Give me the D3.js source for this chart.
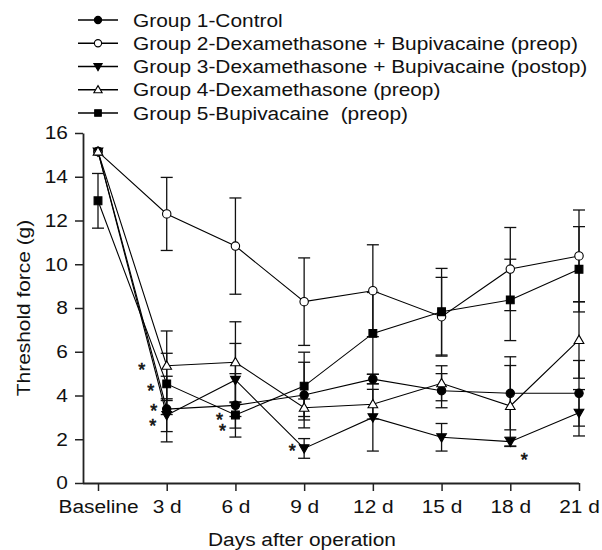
<!DOCTYPE html>
<html>
<head>
<meta charset="utf-8">
<script src="https://cdn.jsdelivr.net/npm/d3@7"></script>
<style>
  body { margin: 0; background: #fff; }
  text { font-family: "Liberation Sans", Arial, sans-serif; fill: #111; }
</style>
</head>
<body>
<div id="chart"></div>
<script>
var days = ['Baseline', '3 d', '6 d', '9 d', '12 d', '15 d', '18 d', '21 d'];
var yTicks = [0, 2, 4, 6, 8, 10, 12, 14, 16];

var groupNames = [
  'Group 1-Control',
  'Group 2-Dexamethasone + Bupivacaine (preop)',
  'Group 3-Dexamethasone + Bupivacaine (postop)',
  'Group 4-Dexamethasone (preop)',
  'Group 5-Bupivacaine  (preop)'
];

var g1 = [15.15, 3.38, 3.55, 4.02, 4.75, 4.22, 4.1, 4.1];
var g1Err = [0, 1.5, 1.45, 1.5, 0.22, 0.78, 1.67, 1.5];
var g2 = [15.15, 12.3, 10.83, 8.29, 8.79, 7.6, 9.78, 10.38];
var g2Err = [0, 1.67, 2.2, 2.0, 2.1, 1.8, 1.9, 2.1];
var g3 = [15.15, 3.1, 4.71, 1.58, 3.0, 2.09, 1.89, 3.21];
var g3Err = [0, 0.75, 1.67, 0.45, 1.54, 0.63, 0.2, 1.06];
var g4 = [15.15, 5.36, 5.52, 3.44, 3.6, 4.56, 3.52, 6.54];
var g4Err = [0, 1.59, 1.85, 0.4, 0.68, 0.8, 1.85, 1.75];
var g5 = [12.9, 4.53, 3.11, 4.43, 6.84, 7.83, 8.37, 9.77];
var g5Err = [1.25, 1.4, 0.6, 1.55, 1.87, 1.98, 1.86, 1.95];

// significance stars: day, height in data units, pixel shift left/right
var starDays = ['3 d', '3 d', '3 d', '3 d', '6 d', '6 d', '9 d', '18 d'];
var starVals = [5.35, 4.39, 3.47, 2.79, 3.06, 2.56, 1.65, 1.23];
var starDx = [-25, -16, -13, -14, -16, -13, -12, 14];

var w = 602, h = 550;
var stretch = 1.16;

var svg = d3.select('#chart')
  .append('svg')
  .attr('width', w)
  .attr('height', h);

var x = d3.scalePoint()
  .domain(days)
  .range([98, 579]);

var y = d3.scaleLinear()
  .domain([0, 16])
  .range([483, 133]);

////////////////////////
// Axes
////////////////////////
var yAxis = svg.append('g')
  .attr('transform', 'translate(83,0)')
  .call(d3.axisLeft(y).tickValues(yTicks).tickSize(8).tickPadding(5).tickSizeOuter(0));

var xAxis = svg.append('g')
  .attr('transform', 'translate(0,483)')
  .call(d3.axisBottom(x).tickSize(8).tickPadding(9).tickSizeOuter(0));

// x domain line starts at the y axis
xAxis.select('.domain').attr('d', 'M83,0.5H579');

[xAxis, yAxis].forEach(function(a) {
  a.select('.domain').attr('stroke', '#222').attr('stroke-width', 1.8);
  a.selectAll('.tick line').attr('stroke', '#222').attr('stroke-width', 1.5);
  a.selectAll('.tick text')
    .style('font-size', '18px')
    .attr('fill', '#111')
    .attr('transform', 'scale(' + stretch + ',1)');
});

svg.append('text')
  .attr('transform', 'translate(302,546) scale(' + stretch + ',1)')
  .attr('text-anchor', 'middle')
  .style('font-size', '18px')
  .text('Days after operation');

svg.append('text')
  .attr('transform', 'translate(30,308) rotate(-90) scale(' + stretch + ',1)')
  .attr('text-anchor', 'middle')
  .style('font-size', '18px')
  .text('Threshold force (g)');

////////////////////////
// Series
////////////////////////
var series = [
  { name: groupNames[0], vals: g1, err: g1Err, shape: 'circle', fill: '#000' },
  { name: groupNames[1], vals: g2, err: g2Err, shape: 'circle', fill: '#fff' },
  { name: groupNames[2], vals: g3, err: g3Err, shape: 'down', fill: '#000' },
  { name: groupNames[3], vals: g4, err: g4Err, shape: 'up', fill: '#fff' },
  { name: groupNames[4], vals: g5, err: g5Err, shape: 'square', fill: '#000' }
];

function markerPath(shape, s) {
  if (shape === 'circle') {
    return d3.symbol().type(d3.symbolCircle).size(Math.PI * s * s)();
  }
  if (shape === 'square') {
    return 'M' + (-s) + ',' + (-s) + 'H' + s + 'V' + s + 'H' + (-s) + 'Z';
  }
  var hw = s * 1.15, hh = s * 1.0;
  if (shape === 'up') {
    return 'M0,' + (-hh * 1.15) + 'L' + hw + ',' + (hh * 0.85) + 'L' + (-hw) + ',' + (hh * 0.85) + 'Z';
  }
  return 'M0,' + (hh * 1.15) + 'L' + hw + ',' + (-hh * 0.85) + 'L' + (-hw) + ',' + (-hh * 0.85) + 'Z';
}

var line = d3.line()
  .x(function(d, i) { return x(days[i]); })
  .y(function(d) { return y(d); });

var lineGroup = svg.append('g').attr('class', 'lines');
series.forEach(function(s) {
  lineGroup.append('path')
    .attr('d', line(s.vals))
    .attr('fill', 'none')
    .attr('stroke', '#000')
    .attr('stroke-width', 1.1);
});

var errGroup = svg.append('g').attr('class', 'errors');
series.forEach(function(s) {
  s.vals.forEach(function(v, i) {
    var e = s.err[i];
    if (!e) return;
    var cx = x(days[i]);
    errGroup.append('line')
      .attr('x1', cx).attr('x2', cx)
      .attr('y1', y(v + e)).attr('y2', y(v - e))
      .attr('stroke', '#111').attr('stroke-width', 1.3);
    [v + e, v - e].forEach(function(c) {
      errGroup.append('line')
        .attr('x1', cx - 6).attr('x2', cx + 6)
        .attr('y1', y(c)).attr('y2', y(c))
        .attr('stroke', '#111').attr('stroke-width', 1.3);
    });
  });
});

var markGroup = svg.append('g').attr('class', 'markers');
series.forEach(function(s) {
  markGroup.selectAll(null)
    .data(s.vals)
    .enter().append('path')
    .attr('d', markerPath(s.shape, s.shape === 'square' ? 3.9 : 4.2))
    .attr('transform', function(d, i) { return 'translate(' + x(days[i]) + ',' + y(d) + ')'; })
    .attr('fill', s.fill)
    .attr('stroke', '#000')
    .attr('stroke-width', 1.1);
});

////////////////////////
// Stars (one text per day, a tspan per star)
////////////////////////
var starGroups = d3.groups(starDays.map(function(d, i) { return i; }), function(i) { return starDays[i]; });
svg.append('g')
  .selectAll('text')
  .data(starGroups)
  .enter().append('text')
  .attr('text-anchor', 'middle')
  .style('font-size', '18px')
  .attr('stroke', '#111')
  .attr('stroke-width', 0.6)
  .each(function(g) {
    var t = d3.select(this);
    g[1].forEach(function(i) {
      t.append('tspan')
        .attr('x', x(starDays[i]) + starDx[i])
        .attr('y', y(starVals[i]) + 10)
        .text('*');
    });
  });

////////////////////////
// Legend
////////////////////////
var legend = svg.append('g').attr('class', 'legend');
series.forEach(function(s, i) {
  var ly = 20 + i * 23.25;
  legend.append('line')
    .attr('x1', 78).attr('x2', 118)
    .attr('y1', ly).attr('y2', ly)
    .attr('stroke', '#000').attr('stroke-width', 1.3);
  legend.append('path')
    .attr('d', markerPath(s.shape, s.shape === 'square' ? 3.3 : 3.6))
    .attr('transform', 'translate(98,' + ly + ')')
    .attr('fill', s.fill)
    .attr('stroke', '#000')
    .attr('stroke-width', 1.1);
  legend.append('text')
    .attr('transform', 'translate(133,' + (ly + 6.5) + ') scale(' + stretch + ',1)')
    .style('font-size', '18px')
    .style('white-space', 'pre')
    .text(s.name);
});
</script>
</body>
</html>
